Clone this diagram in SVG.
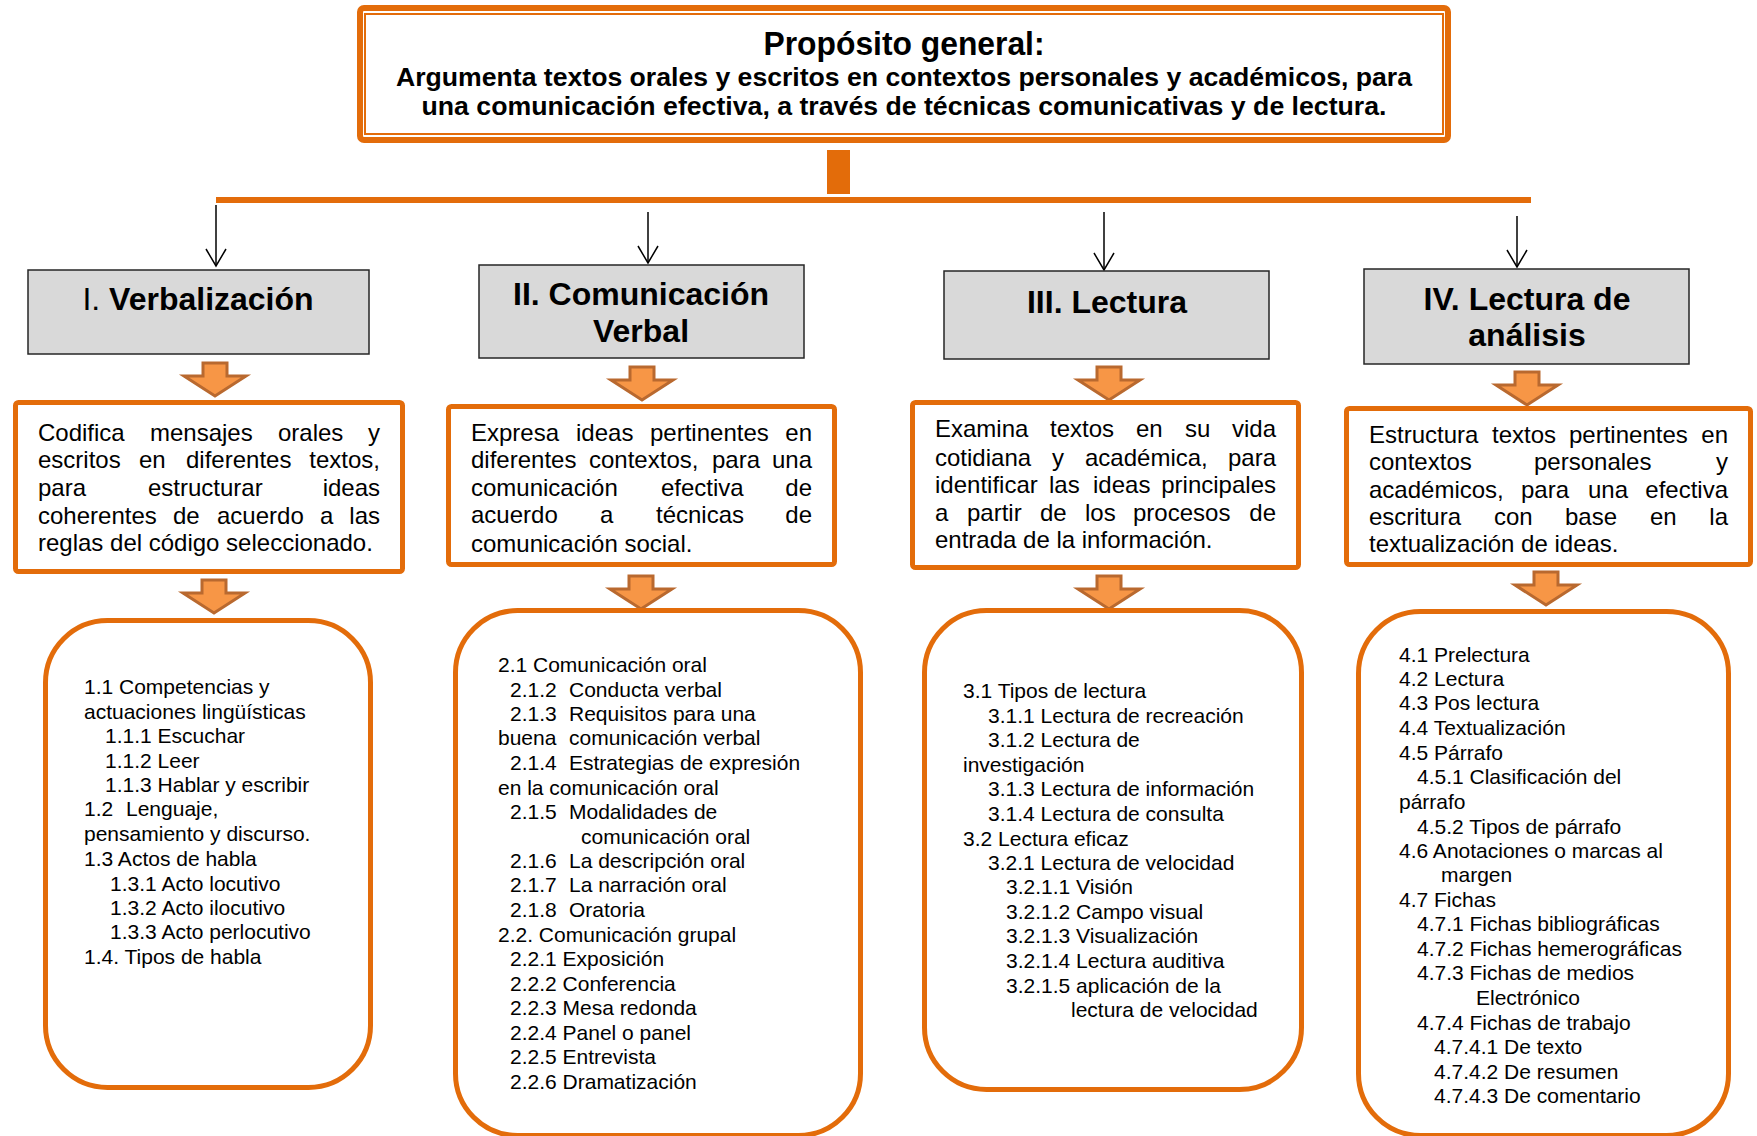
<svg xmlns="http://www.w3.org/2000/svg" width="1757" height="1136" viewBox="0 0 1757 1136">
<defs>
<style>
.t{font-family:"Liberation Sans",Arial,sans-serif;fill:#000}
.d{font-size:24px}
.l{font-size:21px}
.h{font-size:32px;font-weight:bold;text-anchor:middle}
.ob{fill:#fff;stroke:#E36C0A;stroke-width:5}
.rb{fill:#fff;stroke:#E36C0A;stroke-width:5}
.gb{fill:#D9D9D9;stroke:#262626;stroke-width:1.5}
.ba{fill:#F79646;stroke:#B9692F;stroke-width:3}
.ln{stroke:#000;stroke-width:1.5;fill:none}
.e{text-anchor:end}
</style>
<path id="bar" d="M-12,0 H12 V13 H31 L0,33 L-31,13 H-12 Z"/>
<marker id="ah" viewBox="-18 -11 20 22" refX="0" refY="0" markerWidth="20" markerHeight="22" markerUnits="userSpaceOnUse" orient="auto">
<path d="M-17,-10 L0,0 L-17,10" fill="none" stroke="#000" stroke-width="1.5"/>
</marker>
</defs>
<rect width="1757" height="1136" fill="#fff"/>

<g id="proposito">
<rect x="360" y="8" width="1088" height="132" rx="4" fill="#fff" stroke="#E36C0A" stroke-width="6"/>
<rect x="365" y="14" width="1078" height="120" fill="none" stroke="#E36C0A" stroke-width="2"/>
<text class="t" x="904" y="55" font-size="34" font-weight="bold" text-anchor="middle" fill="#262626" textLength="281" lengthAdjust="spacingAndGlyphs">Propósito general:</text>
<text class="t" x="904" y="86" font-size="25.5" font-weight="bold" text-anchor="middle" fill="#262626" textLength="1016" lengthAdjust="spacingAndGlyphs">Argumenta textos orales y escritos en contextos personales y académicos, para</text>
<text class="t" x="904" y="115" font-size="25.5" font-weight="bold" text-anchor="middle" fill="#262626" textLength="965" lengthAdjust="spacingAndGlyphs">una comunicación efectiva, a través de técnicas comunicativas y de lectura.</text>
</g>

<g id="connectors">
<rect x="827" y="150" width="23" height="44" fill="#E36C0A"/>
<rect x="216" y="197" width="1315" height="6" fill="#E36C0A"/>
<line class="ln" x1="216" y1="205" x2="216" y2="266" marker-end="url(#ah)"/>
<line class="ln" x1="648" y1="212" x2="648" y2="263" marker-end="url(#ah)"/>
<line class="ln" x1="1104" y1="212" x2="1104" y2="270" marker-end="url(#ah)"/>
<line class="ln" x1="1517" y1="216" x2="1517" y2="267" marker-end="url(#ah)"/>
<use href="#bar" class="ba" x="215" y="363"/>
<use href="#bar" class="ba" x="642" y="367"/>
<use href="#bar" class="ba" x="1109" y="367"/>
<use href="#bar" class="ba" x="1527" y="372"/>
<use href="#bar" class="ba" x="214" y="580"/>
<use href="#bar" class="ba" x="641" y="576"/>
<use href="#bar" class="ba" x="1109" y="576"/>
<use href="#bar" class="ba" x="1546" y="572"/>
</g>

<g id="h1">
<rect class="gb" x="28" y="270" width="341" height="84"/>
<text class="t h" x="198" y="310"><tspan font-weight="normal">I. </tspan>Verbalización</text>
</g>
<g id="h2">
<rect class="gb" x="479" y="265" width="325" height="93"/>
<text class="t h" x="641" y="305">II. Comunicación</text>
<text class="t h" x="641" y="342">Verbal</text>
</g>
<g id="h3">
<rect class="gb" x="944" y="271" width="325" height="88"/>
<text class="t h" x="1107" y="313">III. Lectura</text>
</g>
<g id="h4">
<rect class="gb" x="1364" y="269" width="325" height="95"/>
<text class="t h" x="1527" y="310">IV. Lectura de</text>
<text class="t h" x="1527" y="346">análisis</text>
</g>

<g id="d1">
<rect class="ob" x="15.5" y="402.5" width="387" height="169" rx="3"/>
<text class="t d">
<tspan x="38" y="441">Codifica</tspan><tspan x="150" y="441">mensajes</tspan><tspan x="278" y="441">orales</tspan>
<tspan x="38" y="468">escritos</tspan><tspan x="139" y="468">en</tspan><tspan x="186" y="468">diferentes</tspan>
<tspan x="38" y="496">para</tspan><tspan x="148" y="496">estructurar</tspan>
<tspan x="38" y="524">coherentes</tspan><tspan x="173" y="524">de</tspan><tspan x="217" y="524">acuerdo</tspan><tspan x="320" y="524">a</tspan>
<tspan x="38" y="551">reglas del código seleccionado.</tspan>
</text>
<text class="t d e"><tspan x="380" y="441">y</tspan><tspan x="380" y="468">textos,</tspan><tspan x="380" y="496">ideas</tspan><tspan x="380" y="524">las</tspan></text>
</g>

<g id="d2">
<rect class="ob" x="448.5" y="406.5" width="386" height="158" rx="3"/>
<text class="t d">
<tspan x="471" y="441">Expresa</tspan><tspan x="576" y="441">ideas</tspan><tspan x="650" y="441">pertinentes</tspan>
<tspan x="471" y="468">diferentes</tspan><tspan x="589" y="468">contextos,</tspan><tspan x="712" y="468">para</tspan>
<tspan x="471" y="496">comunicación</tspan><tspan x="661" y="496">efectiva</tspan>
<tspan x="471" y="523">acuerdo</tspan><tspan x="600" y="523">a</tspan><tspan x="656" y="523">técnicas</tspan>
<tspan x="471" y="552">comunicación social.</tspan>
</text>
<text class="t d e"><tspan x="812" y="441">en</tspan><tspan x="812" y="468">una</tspan><tspan x="812" y="496">de</tspan><tspan x="812" y="523">de</tspan></text>
</g>

<g id="d3">
<rect class="ob" x="912.5" y="402.5" width="386" height="165" rx="3"/>
<text class="t d">
<tspan x="935" y="437">Examina</tspan><tspan x="1050" y="437">textos</tspan><tspan x="1136" y="437">en</tspan><tspan x="1185" y="437">su</tspan>
<tspan x="935" y="466">cotidiana</tspan><tspan x="1052" y="466">y</tspan><tspan x="1085" y="466">académica,</tspan>
<tspan x="935" y="493">identificar</tspan><tspan x="1049" y="493">las</tspan><tspan x="1093" y="493">ideas</tspan>
<tspan x="935" y="521">a</tspan><tspan x="967" y="521">partir</tspan><tspan x="1040" y="521">de</tspan><tspan x="1085" y="521">los</tspan><tspan x="1133" y="521">procesos</tspan>
<tspan x="935" y="548">entrada de la información.</tspan>
</text>
<text class="t d e"><tspan x="1276" y="437">vida</tspan><tspan x="1276" y="466">para</tspan><tspan x="1276" y="493">principales</tspan><tspan x="1276" y="521">de</tspan></text>
</g>

<g id="d4">
<rect class="ob" x="1346.5" y="408.5" width="404" height="156" rx="3"/>
<text class="t d">
<tspan x="1369" y="443">Estructura</tspan><tspan x="1492" y="443">textos</tspan><tspan x="1569" y="443">pertinentes</tspan>
<tspan x="1369" y="470">contextos</tspan><tspan x="1534" y="470">personales</tspan>
<tspan x="1369" y="498">académicos,</tspan><tspan x="1521" y="498">para</tspan><tspan x="1588" y="498">una</tspan>
<tspan x="1369" y="525">escritura</tspan><tspan x="1494" y="525">con</tspan><tspan x="1565" y="525">base</tspan><tspan x="1650" y="525">en</tspan>
<tspan x="1369" y="552">textualización de ideas.</tspan>
</text>
<text class="t d e"><tspan x="1728" y="443">en</tspan><tspan x="1728" y="470">y</tspan><tspan x="1728" y="498">efectiva</tspan><tspan x="1728" y="525">la</tspan></text>
</g>

<g id="c1">
<rect class="rb" x="45.5" y="620.5" width="325" height="467" rx="62"/>
<text class="t l">
<tspan x="84" y="694">1.1 Competencias y</tspan>
<tspan x="84" y="719">actuaciones lingüísticas</tspan>
<tspan x="105" y="743">1.1.1 Escuchar</tspan>
<tspan x="105" y="768">1.1.2 Leer</tspan>
<tspan x="105" y="792">1.1.3 Hablar y escribir</tspan>
<tspan x="84" y="816">1.2</tspan><tspan x="126" y="816">Lenguaje,</tspan>
<tspan x="84" y="841">pensamiento y discurso.</tspan>
<tspan x="84" y="866">1.3 Actos de habla</tspan>
<tspan x="110" y="891">1.3.1 Acto locutivo</tspan>
<tspan x="110" y="915">1.3.2 Acto ilocutivo</tspan>
<tspan x="110" y="939">1.3.3 Acto perlocutivo</tspan>
<tspan x="84" y="964">1.4. Tipos de habla</tspan>
</text>
</g>

<g id="c2">
<rect class="rb" x="455.5" y="610.5" width="405" height="525" rx="62"/>
<text class="t l">
<tspan x="498" y="672">2.1 Comunicación oral</tspan>
<tspan x="510" y="697">2.1.2</tspan><tspan x="569" y="697">Conducta verbal</tspan>
<tspan x="510" y="721">2.1.3</tspan><tspan x="569" y="721">Requisitos para una</tspan>
<tspan x="498" y="745">buena</tspan><tspan x="569" y="745">comunicación verbal</tspan>
<tspan x="510" y="770">2.1.4</tspan><tspan x="569" y="770">Estrategias de expresión</tspan>
<tspan x="498" y="795">en la comunicación oral</tspan>
<tspan x="510" y="819">2.1.5</tspan><tspan x="569" y="819">Modalidades de</tspan>
<tspan x="581" y="844">comunicación oral</tspan>
<tspan x="510" y="868">2.1.6</tspan><tspan x="569" y="868">La descripción oral</tspan>
<tspan x="510" y="892">2.1.7</tspan><tspan x="569" y="892">La narración oral</tspan>
<tspan x="510" y="917">2.1.8</tspan><tspan x="569" y="917">Oratoria</tspan>
<tspan x="498" y="942">2.2. Comunicación grupal</tspan>
<tspan x="510" y="966">2.2.1 Exposición</tspan>
<tspan x="510" y="991">2.2.2 Conferencia</tspan>
<tspan x="510" y="1015">2.2.3 Mesa redonda</tspan>
<tspan x="510" y="1040">2.2.4 Panel o panel</tspan>
<tspan x="510" y="1064">2.2.5 Entrevista</tspan>
<tspan x="510" y="1089">2.2.6 Dramatización</tspan>
</text>
</g>

<g id="c3">
<rect class="rb" x="924.5" y="610.5" width="377" height="479" rx="62"/>
<text class="t l">
<tspan x="963" y="698">3.1 Tipos de lectura</tspan>
<tspan x="988" y="723">3.1.1 Lectura de recreación</tspan>
<tspan x="988" y="747">3.1.2 Lectura de</tspan>
<tspan x="963" y="772">investigación</tspan>
<tspan x="988" y="796">3.1.3 Lectura de información</tspan>
<tspan x="988" y="821">3.1.4 Lectura de consulta</tspan>
<tspan x="963" y="846">3.2 Lectura eficaz</tspan>
<tspan x="988" y="870">3.2.1 Lectura de velocidad</tspan>
<tspan x="1006" y="894">3.2.1.1 Visión</tspan>
<tspan x="1006" y="919">3.2.1.2 Campo visual</tspan>
<tspan x="1006" y="943">3.2.1.3 Visualización</tspan>
<tspan x="1006" y="968">3.2.1.4 Lectura auditiva</tspan>
<tspan x="1006" y="993">3.2.1.5 aplicación de la</tspan>
<tspan x="1071" y="1017">lectura de velocidad</tspan>
</text>
</g>

<g id="c4">
<rect class="rb" x="1358.5" y="611.5" width="370" height="524" rx="62"/>
<text class="t l">
<tspan x="1399" y="662">4.1 Prelectura</tspan>
<tspan x="1399" y="686">4.2 Lectura</tspan>
<tspan x="1399" y="710">4.3 Pos lectura</tspan>
<tspan x="1399" y="735">4.4 Textualización</tspan>
<tspan x="1399" y="760">4.5 Párrafo</tspan>
<tspan x="1417" y="784">4.5.1 Clasificación del</tspan>
<tspan x="1399" y="809">párrafo</tspan>
<tspan x="1417" y="834">4.5.2 Tipos de párrafo</tspan>
<tspan x="1399" y="858">4.6 Anotaciones o marcas al</tspan>
<tspan x="1441" y="882">margen</tspan>
<tspan x="1399" y="907">4.7 Fichas</tspan>
<tspan x="1417" y="931">4.7.1 Fichas bibliográficas</tspan>
<tspan x="1417" y="956">4.7.2 Fichas hemerográficas</tspan>
<tspan x="1417" y="980">4.7.3 Fichas de medios</tspan>
<tspan x="1476" y="1005">Electrónico</tspan>
<tspan x="1417" y="1030">4.7.4 Fichas de trabajo</tspan>
<tspan x="1434" y="1054">4.7.4.1 De texto</tspan>
<tspan x="1434" y="1079">4.7.4.2 De resumen</tspan>
<tspan x="1434" y="1103">4.7.4.3 De comentario</tspan>
</text>
</g>
</svg>
